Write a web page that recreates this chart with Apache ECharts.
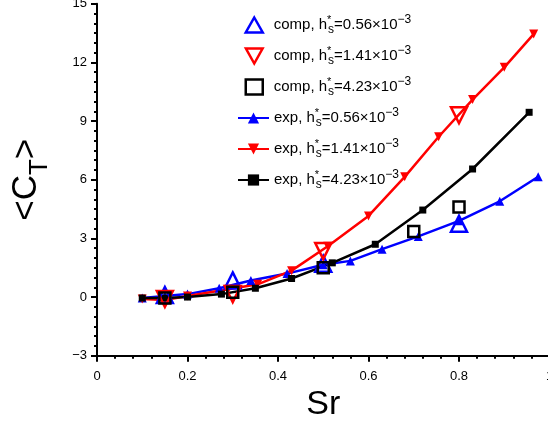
<!DOCTYPE html>
<html><head><meta charset="utf-8">
<script src="https://cdn.jsdelivr.net/npm/echarts@6/dist/echarts.min.js"></script>
<style>html,body{margin:0;padding:0;background:#fff}#c{width:548px;height:423px}</style>
</head><body><div id="c"></div>
<script>
// ---- data ----
const xTicks = [0, 0.2, 0.4, 0.6, 0.8, 1.0];
const yTicks = [-3, 0, 3, 6, 9, 12, 15];

const expBlueSr = [0.10, 0.15, 0.20, 0.27, 0.34, 0.42, 0.50, 0.56, 0.63, 0.71, 0.80, 0.89, 0.975];
const expBlueCt = [-0.05, 0.05, 0.15, 0.45, 0.85, 1.2, 1.65, 1.85, 2.45, 3.1, 3.9, 4.9, 6.15];

const expRedSr = [0.10, 0.15, 0.20, 0.29, 0.355, 0.43, 0.51, 0.60, 0.68, 0.755, 0.83, 0.90, 0.965];
const expRedCt = [-0.1, -0.15, 0.05, 0.4, 0.65, 1.35, 2.6, 4.15, 6.15, 8.2, 10.1, 11.75, 13.45];

const expBlackSr = [0.10, 0.15, 0.20, 0.275, 0.35, 0.43, 0.52, 0.615, 0.72, 0.83, 0.955];
const expBlackCt = [-0.05, -0.05, 0.0, 0.15, 0.45, 0.95, 1.75, 2.7, 4.45, 6.55, 9.45];

const compBlueSr = [0.15, 0.30, 0.50, 0.80];
const compBlueCt = [0.1, 0.85, 1.7, 3.75];
const compRedSr = [0.15, 0.30, 0.50, 0.80];
const compRedCt = [-0.1, 0.15, 2.35, 9.3];
const compBlackSr = [0.15, 0.30, 0.50, 0.70, 0.80];
const compBlackCt = [-0.05, 0.25, 1.5, 3.35, 4.6];

const compNames = ['comp1', 'comp2', 'comp3'];
const expNames = ['exp1', 'exp2', 'exp3'];
const seriesH = ['0.56', '1.41', '4.23'];

function pairs(xs, ys) { return xs.map((x, i) => [x, ys[i]]); }

const BLUE = '#0000ff', RED = '#ff0000', BLACK = '#000000';
const FONT = 'Liberation Sans, Arial, Helvetica, sans-serif';
const DOWN_TRI = 'path://M0,0 L10,0 L5,9 Z';

const chart = echarts.init(document.getElementById('c'), null, {renderer: 'canvas'});

function compSeries(name, data, color, symbol, rot, size) {
  return {
    name, type: 'scatter', data, symbol, symbolRotate: rot, symbolSize: size, z: 5,
    itemStyle: {color: 'rgba(255,255,255,0)', borderColor: color, borderWidth: 2.5, opacity: 1}
  };
}
function expSeries(name, data, color, symbol, rot, size) {
  return {
    name, type: 'line', data, symbol, symbolRotate: rot, symbolSize: size, z: 3,
    showAllSymbol: true,
    lineStyle: {color, width: 2.5},
    itemStyle: {color, borderWidth: 0}
  };
}

const richText = {
  t: {fontSize: 15, fontFamily: FONT, lineHeight: 22, verticalAlign: 'middle'},
  tf: {fontSize: 15, fontFamily: FONT, lineHeight: 22, verticalAlign: 'middle', padding: [0, 0, 0, 6]},
  st: {fontSize: 11, fontFamily: FONT, lineHeight: 12, verticalAlign: 'top', width: 1},
  sup: {fontSize: 12, fontFamily: FONT, lineHeight: 12, verticalAlign: 'top'},
  sub: {fontSize: 12, fontFamily: FONT, lineHeight: 12, verticalAlign: 'bottom'}
};
function legendText(kind, h, first) {
  return '{' + first + '|' + kind + ', h}{st|*}{sub|s}{t|=' + h + '×10}{sup|−3}';
}
const compLegendStyle = (c) => ({color: 'rgba(255,255,255,0)', borderColor: c, borderWidth: 2.5, opacity: 1});

const option = {
  animation: false,
  backgroundColor: '#fff',
  grid: {left: 97, top: 3.8, width: 452.5, height: 351.9, containLabel: false, outerBoundsMode: 'none'},
  legend: [{
    orient: 'vertical', left: 244.5, top: 14, padding: 0, itemWidth: 17, itemHeight: 15, itemGap: 9,
    data: [
      {name: 'comp1', icon: 'triangle', itemStyle: compLegendStyle(BLUE)},
      {name: 'comp2', icon: DOWN_TRI, itemStyle: compLegendStyle(RED)},
      {name: 'comp3', icon: 'rect', itemStyle: compLegendStyle(BLACK)}
    ],
    formatter: name => legendText('comp', seriesH[compNames.indexOf(name)], 'tf'),
    textStyle: {fontFamily: FONT, color: '#000', rich: richText}
  }, {
    orient: 'vertical', left: 237, top: 107, padding: 0, itemWidth: 31, itemHeight: 14, itemGap: 9,
    data: expNames,
    formatter: name => legendText('exp', seriesH[expNames.indexOf(name)], 't'),
    textStyle: {fontFamily: FONT, color: '#000', rich: richText}
  }],
  xAxis: {
    type: 'value', min: 0, max: 1.0, interval: 0.2,
    name: 'Sr', nameLocation: 'middle', nameGap: 28,
    nameTextStyle: {fontFamily: FONT, fontSize: 34, color: '#000'},
    axisLine: {show: true, onZero: false, lineStyle: {color: '#000', width: 2}},
    axisTick: {show: true, inside: false, length: 6, lineStyle: {color: '#000', width: 2}},
    minorTick: {show: true, splitNumber: 5, length: 3, lineStyle: {color: '#000', width: 2}},
    splitLine: {show: false},
    axisLabel: {fontFamily: FONT, fontSize: 13, color: '#000', margin: 14, hideOverlap: false,
      formatter: v => (Math.round(v * 10) / 10).toString()}
  },
  yAxis: {
    type: 'value', min: -3, max: 15, interval: 3,
    name: '{a|<C}{b|T}{a|>}', nameLocation: 'middle', nameGap: 44, nameRotate: 90,
    nameTextStyle: {fontFamily: FONT, color: '#000',
      rich: {
        a: {fontSize: 35, fontFamily: FONT, lineHeight: 44, verticalAlign: 'top'},
        b: {fontSize: 26, fontFamily: FONT, lineHeight: 30, verticalAlign: 'bottom'}
      }},
    axisLine: {show: true, onZero: false, lineStyle: {color: '#000', width: 2}},
    axisTick: {show: true, inside: false, length: 6, lineStyle: {color: '#000', width: 2}},
    minorTick: {show: true, splitNumber: 6, length: 3, lineStyle: {color: '#000', width: 2}},
    splitLine: {show: false},
    axisLabel: {fontFamily: FONT, fontSize: 13, color: '#000', margin: 10,
      formatter: v => (v < 0 ? '−' + Math.abs(v) : String(v))}
  },
  series: [
    compSeries('comp1', pairs(compBlueSr, compBlueCt), BLUE, 'triangle', 0, 16),
    compSeries('comp2', pairs(compRedSr, compRedCt), RED, 'triangle', 180, 16),
    compSeries('comp3', pairs(compBlackSr, compBlackCt), BLACK, 'rect', 0, 11),
    expSeries('exp1', pairs(expBlueSr, expBlueCt), BLUE, 'triangle', 0, 9),
    expSeries('exp2', pairs(expRedSr, expRedCt), RED, 'triangle', 180, 9),
    expSeries('exp3', pairs(expBlackSr, expBlackCt), BLACK, 'rect', 0, 7)
  ]
};
chart.setOption(option);
</script>
</body></html>
